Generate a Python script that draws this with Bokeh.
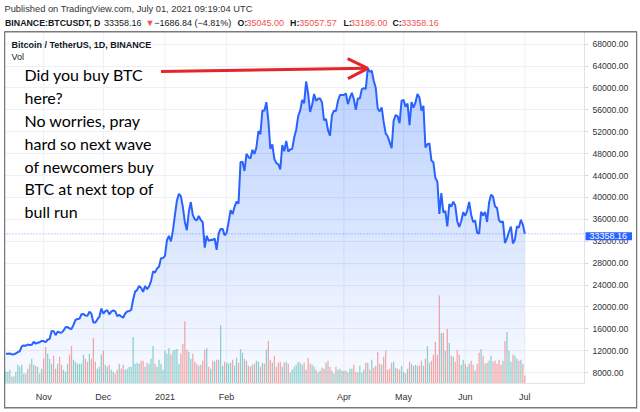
import numpy as np
import pandas as pd
from bokeh.plotting import figure
from bokeh.models import (Range1d, FixedTicker, Span, Label, Arrow, OpenHead,
                          NumeralTickFormatter, ColumnDataSource)
from bokeh.embed import file_html
from bokeh.resources import INLINE

# ---------------- data ----------------
start_date = "2020-10-13"

close = [
    # Oct 13 - Oct 31
    11430, 11430, 11500, 11320, 11360, 11500, 11750, 11910, 12800, 12970, 12930, 13120, 13030, 13070, 13650, 13280, 13460, 13560, 13800,
    # Nov
    13760, 13550, 14030, 14150, 15590, 15580, 14840, 15480, 15330, 15300, 15700, 16280, 16320, 16070, 15960, 16720, 17650, 17800, 17820, 18660,
    18700, 18420, 18370, 19150, 18740, 17150, 17140, 17720, 18180, 19700,
    # Dec
    18760, 19220, 19420, 18650, 19150, 19360, 19170, 18320, 18550, 18250, 18030, 18800, 19170, 19270, 19430, 21350, 22800, 23100, 23840, 23480,
    22750, 23820, 23240, 23730, 24710, 26490, 26280, 27040, 27360, 28890, 28920,
    # Jan
    29330, 32180, 33000, 31990, 33950, 36770, 39400, 40670, 40240, 38240, 35540, 34010, 37390, 39160, 36770, 36010, 35820, 36630, 35890, 35470,
    30830, 33000, 32080, 32260, 32250, 32510, 30430, 33400, 34250, 34260, 33100,
    # Feb
    33520, 35500, 37660, 36950, 38290, 39240, 38870, 46450, 46510, 44840, 47970, 47380, 47120, 48700, 47960, 49150, 52120, 51580, 55890, 55850,
    57410, 54090, 48890, 49680, 47070, 46280, 46100, 45140,
    # Mar
    49590, 48440, 50350, 48370, 48760, 48880, 50970, 52380, 54880, 55860, 57800, 57230, 61190, 59000, 55630, 56900, 58910, 57650, 58030, 58100,
    57350, 54100, 54340, 52300, 51290, 55030, 55850, 55780, 57630, 58730, 58740,
    # Apr
    58720, 58990, 57060, 58200, 59130, 57990, 56000, 58090, 58090, 59780, 59960, 59840, 63590, 62960, 63160, 61330, 60040, 56250, 55720, 56470,
    53800, 51700, 51190, 50100, 49000, 54020, 55040, 54860, 53560, 57700,
    # May
    57830, 56580, 57170, 53200, 57440, 56400, 57360, 58900, 58280, 55860, 56750, 49150, 49720, 49880, 46760, 46430, 43540, 42910, 37000, 40780,
    37270, 37530, 34700, 38790, 38330, 39240, 38530, 35660, 34640, 35650, 37300,
    # Jun
    36680, 37560, 39190, 36850, 35520, 35800, 33550, 33400, 37390, 36690, 37340, 35550, 39020, 40520, 40140, 38350, 38090, 35820, 35480, 35600,
    31680, 32510, 33690, 34660, 31590, 32280, 34700, 34490, 35910, 35045,
    # Jul 1
    33358.16,
]

volume = [
    # Oct 13 - Oct 31
    12, 12, 14, 7, 7, 12, 19, 17, 19, 10, 10, 15, 20, 25, 19, 18, 17, 10, 15,
    # Nov
    25, 37, 30, 25, 20, 28, 15, 20, 27, 19, 14, 12, 20, 29, 38, 24, 22, 20, 20, 20, 29, 25, 22, 30, 25, 46, 22, 15, 17, 29,
    # Dec 1 - 16
    33, 19, 17, 19, 14, 12, 10, 14, 20, 15, 19, 14, 15, 17, 17, 47,
    # Dec 17 - Feb 20
    20, 21, 20, 23, 23, 17, 21, 20, 25, 38, 20, 17, 24, 20, 14, 33, 30, 36, 29, 33, 34, 35, 20, 30, 40, 63, 34, 32, 25, 30,
    22, 20, 18, 19, 23, 34, 36, 17, 15, 23, 22, 24, 24, 59, 18, 22, 21, 20, 21, 24, 18, 26, 21, 35, 31, 25, 23, 18, 17, 19,
    20, 23, 22, 17, 21, 20,
    # Feb 21 - Apr 26
    34, 43, 24, 21, 28, 17, 21, 22, 17, 21, 22, 20, 11, 14, 17, 19, 22, 21, 19, 21, 14, 26, 20, 19, 17, 14, 11, 13, 16, 15,
    21, 23, 17, 13, 10, 17, 14, 15, 13, 13, 13, 11, 15, 15, 19, 12, 11, 18, 11, 14, 21, 21, 14, 24, 16, 18, 32, 20, 19, 27,
    33, 14, 15, 21, 22,
    # Apr 27 - Jul 1
    16, 15, 14, 18, 12, 10, 15, 22, 20, 18, 19, 18, 18, 23, 18, 25, 38, 21, 23, 29, 42, 29, 89, 51, 51, 33, 55, 41, 28, 27,
    22, 34, 29, 19, 24, 20, 17, 20, 23, 19, 13, 20, 31, 35, 28, 20, 21, 23, 28, 22, 23, 20, 24, 19, 23, 43, 52, 33, 22, 29,
    28, 25, 23, 24, 20, 8,
]

month_tick_dates = ["2020-11-01", "2020-12-01", "2021-01-01", "2021-02-01",
                    "2021-04-01", "2021-05-01", "2021-06-01", "2021-07-01"]
month_tick_labels = ["Nov", "Dec", "2021", "Feb", "Apr", "May", "Jun", "Jul"]
price_ticks = [8000, 12000, 16000, 20000, 24000, 28000, 32000, 36000, 40000,
               44000, 48000, 52000, 56000, 60000, 64000, 68000]

last_price = 33358.16
header_1 = "Published on TradingView.com, July 01, 2021 09:19:04 UTC"
header_2 = [("BINANCE:BTCUSDT, D", "b"), ("33358.16", "n"), ("\u25bc", "r"),
            ("\u22121686.84 (\u22124.81%)", "n"), ("O:", "b"), ("35045.00", "r"),
            ("H:", "b"), ("35057.57", "r"), ("L:", "b"), ("33186.00", "r"),
            ("C:", "b"), ("33358.16", "r")]
header_2_x = [4.5, 103.5, 145, 153.8, 237, 246, 289.6, 298.7, 343, 349.5, 392, 400.8]
note_lines = ["Did you buy BTC", "here?", "No worries, pray", "hard so next wave",
              "of newcomers buy", "BTC at next top of", "bull run"]

# ---------------- derived ----------------
dates = pd.date_range(start_date, periods=len(close), freq="D")
days = np.arange(len(close), dtype=float)
close_a = np.array(close, dtype=float)
prev = np.concatenate([[close_a[0]], close_a[:-1]])
up = close_a >= prev
UP_C, DN_C = "#26a69a", "#ef5350"
vol_colors = [UP_C if u else DN_C for u in up]
tick_days = [int((pd.Timestamp(d) - dates[0]).days) for d in month_tick_dates]

BLUE = "#2962ff"
TXT = "#131722"
RED = "#ef5350"
BOX = "#7a7a7a"
FONT = "Liberation Sans"

# plot frame: canvas x 3..584, y 17..387 ; price 68000 at y=44, 8000 at y=376
W, H = 640, 412
FR_L, FR_T, FR_R, FR_B = 3, 17, 584, 387
ppu = (376 - 44) / (68000 - 8000)          # pixels per price unit
Y_TOP = 68000 + (44 - FR_T) / ppu
Y_BOT = 8000 - (FR_B - 376) / ppu
Y_BOX = 68000 + (44 - 31) / ppu            # price at the chart box top (y=31)
ppd = 579 / 291.2                          # pixels per day
X_LEFT = -0.2 - (5 - FR_L) / ppd
X_RIGHT = -0.2 + 579 / ppd


def canvas_y(price):
    return FR_T + (Y_TOP - price) * ppu


p = figure(width=W, height=H, output_backend="svg", toolbar_location=None,
           x_range=Range1d(X_LEFT, X_RIGHT), y_range=Range1d(Y_BOT, Y_TOP),
           y_axis_location="right",
           min_border_left=FR_L, min_border_right=W - FR_R, min_border_top=FR_T,
           min_border_bottom=H - FR_B)
p.background_fill_color = "white"
p.border_fill_color = "white"
p.outline_line_color = None
p.extra_y_ranges = {"vol": Range1d(0, FR_B - FR_T)}

# gradient area under the line: stacked translucent layers
n_layers = 24
edges = np.linspace(5831, 70169, n_layers + 1)
for k in range(n_layers):
    a = 0.03 if k == 0 else 0.0105
    base = max(edges[k], Y_BOT)
    p.varea(x=days, y1=np.full_like(close_a, base), y2=np.maximum(close_a, base),
            fill_color=BLUE, fill_alpha=a)

# vertical grid lines (limited to the chart box)
p.segment(x0=tick_days, y0=[Y_BOT] * len(tick_days), x1=tick_days, y1=[Y_BOX] * len(tick_days),
          line_color="#eef0f5", line_width=1, level="underlay")

# volume
vsrc = ColumnDataSource(dict(x=days, top=volume, color=vol_colors))
p.vbar(x="x", top="top", bottom=0, width=0.62, source=vsrc, y_range_name="vol",
       fill_color="color", fill_alpha=0.5, line_color=None)

# price line
p.line(days, close_a, line_color=BLUE, line_width=2)

# last price dotted line
p.add_layout(Span(location=last_price, dimension="width", line_color=BLUE,
                  line_alpha=0.6, line_width=1, line_dash="1 2"))

# axes
xa = p.xaxis[0]
xa.ticker = FixedTicker(ticks=tick_days)
xa.major_label_overrides = {t: l for t, l in zip(tick_days, month_tick_labels)}
xa.major_tick_line_color = None
xa.minor_tick_line_color = None
xa.axis_line_color = "#e0e3eb"
xa.major_label_text_font = FONT
xa.major_label_text_font_size = "9px"
xa.major_label_text_color = "#333333"
xa.major_label_standoff = 2

ya = p.yaxis[0]
ya.ticker = FixedTicker(ticks=price_ticks)
ya.formatter = NumeralTickFormatter(format="0.00")
ya.bounds = (Y_BOT, Y_BOX)
ya.major_tick_line_color = "#d6d9e0"
ya.major_tick_out = 4
ya.major_tick_in = 0
ya.minor_tick_line_color = None
ya.axis_line_color = "#e0e3eb"
ya.major_label_text_font = FONT
ya.major_label_text_font_size = "8.6px"
ya.major_label_text_color = "#333333"
ya.major_label_standoff = 4

p.xgrid.visible = False
p.ygrid.grid_line_color = "#eef0f5"


def lab(text, x, y, size="9px", bold=False, color=TXT, font=FONT, place=None):
    lbl = Label(x=x, y=y, x_units="canvas", y_units="canvas", text=text,
                text_font=font, text_font_size=size,
                text_font_style="bold" if bold else "normal",
                text_color=color, text_baseline="middle", text_align="left")
    if place:
        p.add_layout(lbl, place)
    else:
        p.add_layout(lbl)


def box_line(x, y, horizontal, length, place):
    # thin filled box drawn as a label in a side panel (not clipped by the frame)
    pad = dict(left=0, right=length, top=0, bottom=0) if horizontal else \
        dict(left=0, right=1, top=0, bottom=length)
    p.add_layout(Label(x=x, y=y, x_units="canvas", y_units="canvas", text=" ",
                       text_font_size="1.3px" if horizontal else "1px",
                       text_baseline="top", text_align="left", padding=pad,
                       background_fill_color=BOX, background_fill_alpha=1), place)


# chart box outline
box_line(4, 30.5, True, 632, "above")     # top edge
box_line(4, 406.5, True, 632, "above")    # bottom edge
box_line(3.5, 31, False, 376, "left")     # left edge
box_line(635.5, 31, False, 376, "right")  # right edge

# header
lab(header_1, 4, 8.5, size="9.3px", color="#333333", place="above")
for (t, kind), x in zip(header_2, header_2_x):
    if kind == "b":
        lab(t, x, 22.7, size="8.8px", bold=True)
    elif kind == "r":
        lab(t, x, 22.7, size="9px", color=RED)
    else:
        lab(t, x, 22.7, size="9px")

lab("Bitcoin / TetherUS, 1D, BINANCE", 11, 44, size="9px", bold=True)
lab("Vol", 11, 56.5, size="9px")

for i, line in enumerate(note_lines):
    lab(line, 24, 74.3 + i * 22.8, size="16px", color="#000000", font="Lato")

# arrow pointing to the top
peak_i = int(np.argmax(close_a))
p.add_layout(Arrow(end=OpenHead(size=20, line_color="#e3262b", line_width=3),
                   x_start=78, y_start=63000, x_end=days[peak_i], y_end=close_a[peak_i],
                   line_color="#e3262b", line_width=3))

# last price tag on the price scale
p.add_layout(Label(x=585, y=canvas_y(last_price), x_units="canvas", y_units="canvas",
                   text=f"{last_price:.2f}", text_font=FONT, text_font_size="9px",
                   text_color="white", text_baseline="middle", text_align="left",
                   background_fill_color=BLUE, background_fill_alpha=1,
                   padding=dict(left=4, right=5, top=1, bottom=1)), "below")

open("out.html", "w").write(file_html(p, INLINE))
